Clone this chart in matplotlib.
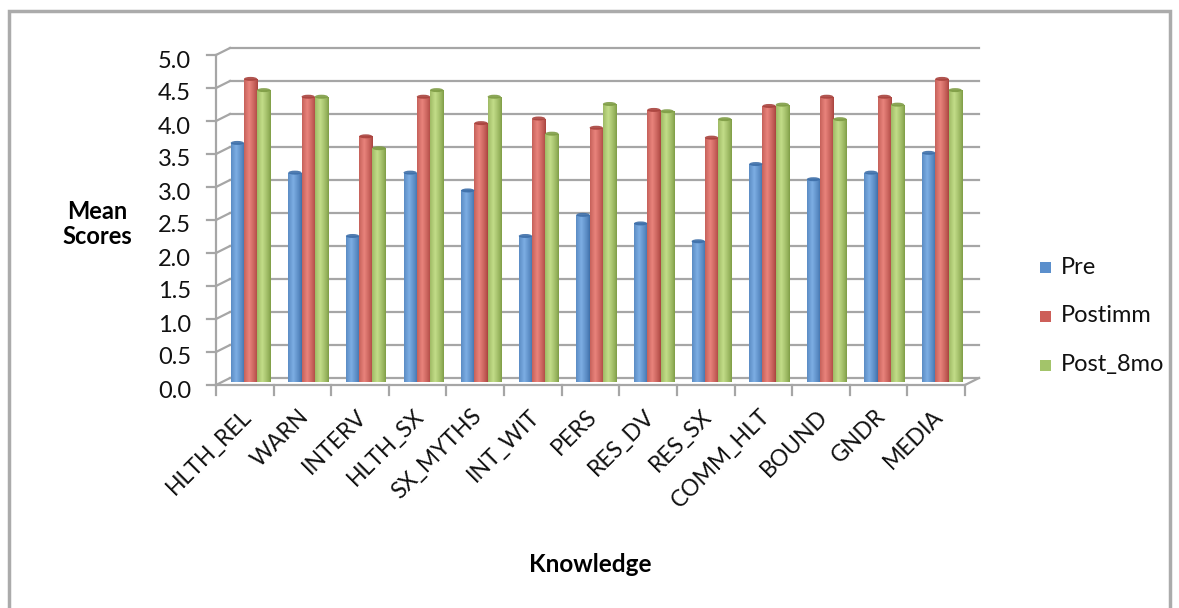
import numpy as np
import matplotlib
matplotlib.use("Agg")
import matplotlib.pyplot as plt
from matplotlib.patches import Ellipse, Rectangle
from matplotlib.colors import LinearSegmentedColormap

# mean knowledge scores per topic, three waves
topics = ["HLTH_REL", "WARN", "INTERV", "HLTH_SX", "SX_MYTHS", "INT_WIT", "PERS",
          "RES_DV", "RES_SX", "COMM_HLT", "BOUND", "GNDR", "MEDIA"]
pre = [3.63, 3.18, 2.22, 3.18, 2.91, 2.22, 2.54, 2.41, 2.14, 3.31, 3.08, 3.18, 3.48]
postimm = [4.60, 4.33, 3.73, 4.33, 3.93, 4.00, 3.86, 4.13, 3.71, 4.19, 4.33, 4.33, 4.60]
post_8mo = [4.43, 4.33, 3.55, 4.43, 4.33, 3.77, 4.22, 4.11, 3.99, 4.21, 3.99, 4.21, 4.43]
series_names = ["Pre", "Postimm", "Post_8mo"]
y_ticks = np.arange(0, 5.01, 0.5)

# (edge, highlight) colours for the cylinder shading
colors = [("#3d6ea8", "#7cade3"), ("#a8423d", "#e8837b"), ("#7e9c45", "#c2dc88")]
legend_colors = ["#5b8fcc", "#cd5f59", "#a3c46a"]

plt.rcParams["font.family"] = ["Lato", "DejaVu Sans"]

W, H = 1179, 608
fig = plt.figure(figsize=(W / 100, H / 100), dpi=100)
x0_px, x1_px, y0_px, y5_px = 216, 965, 385, 55
ax = fig.add_axes([x0_px / W, 1 - y0_px / H, (x1_px - x0_px) / W, (y0_px - y5_px) / H])
n = len(topics)
ax.set_xlim(0, n)
ax.set_ylim(0, 5)
ax.axis("off")

# depth of the fake 3d floor, in data units
px_x = (x1_px - x0_px) / n
px_y = (y0_px - y5_px) / 5
DX, DY = 14 / px_x, 7 / px_y
grid_c = "#a6a6a6"

for v in y_ticks:
    ax.plot([DX, n + DX], [v + DY, v + DY], color=grid_c, lw=1.6, clip_on=False, zorder=1)
    ax.plot([0, DX], [v, v + DY], color=grid_c, lw=1.6, clip_on=False, zorder=1)
    ax.plot([-9 / px_x, 0], [v, v], color=grid_c, lw=1.6, clip_on=False, zorder=1)
    ax.text(-25 / px_x, v - 6 / px_y, f"{v:.1f}", ha="right", va="center",
            fontsize=17, color="#111111")
ax.plot([0, 0], [0, 5], color=grid_c, lw=1.6, clip_on=False, zorder=1)
ax.plot([0, n], [0, 0], color=grid_c, lw=1.6, clip_on=False, zorder=1)
ax.plot([n, n + DX], [0, DY], color=grid_c, lw=1.6, clip_on=False, zorder=1)
for i in range(n + 1):
    ax.plot([i, i], [0, -10 / px_y], color=grid_c, lw=1.6, clip_on=False, zorder=1)

# cylinders
bw = 0.23
base = 2.5 / px_y
shift = 0.1
cap_h = 4 / px_y
prof = np.linspace(0, 1, 64)
shade = np.clip(1 - np.abs(prof - 0.38) / 0.62, 0, 1) ** 0.8
for k, vals in enumerate([pre, postimm, post_8mo]):
    cmap = LinearSegmentedColormap.from_list(f"c{k}", [colors[k][0], colors[k][1]])
    for i, v in enumerate(vals):
        xc = i + 0.5 + shift + (k - 1) * bw
        rect = Rectangle((xc - bw / 2, base), bw, v, facecolor="none", edgecolor="none")
        ax.add_patch(rect)
        im = ax.imshow(shade[None, :], cmap=cmap, vmin=0, vmax=1, aspect="auto",
                       extent=[xc - bw / 2, xc + bw / 2, base, base + v], zorder=2 + k * 0.01)
        im.set_clip_path(rect)
        cap = Ellipse((xc, base + v), bw, cap_h, facecolor=colors[k][0], edgecolor="none",
                      zorder=2.5 + k * 0.01, alpha=0.9)
        ax.add_patch(cap)
ax.set_xlim(0, n)
ax.set_ylim(0, 5)

for i, name in enumerate(topics):
    ax.text(i + 0.5 + 3 / px_x, -28 / px_y, name, rotation=45, rotation_mode="anchor",
            ha="right", va="center", fontsize=16.5, color="#111111")

fig.text(97 / W, 1 - 224 / H, "Mean\nScores", ha="center", va="center",
         fontsize=17, fontweight="bold", linespacing=1.15)
fig.text(590 / W, 1 - 565 / H, "Knowledge", ha="center", va="center",
         fontsize=17.5, fontweight="bold")

for k, name in enumerate(series_names):
    yy = 1 - (267 + 49 * k) / H
    fig.patches.append(Rectangle((1040 / W, yy - 6 / H), 11 / W, 11 / H,
                                 facecolor=legend_colors[k], transform=fig.transFigure))
    fig.text(1061 / W, yy, name, ha="left", va="center", fontsize=17, color="#111111")

# outer frame
fig.patches.append(Rectangle((9 / W, -0.05), 1161 / W, 1.05 - 11 / H, facecolor="none",
                             edgecolor="#ababab", lw=2.5, transform=fig.transFigure))

fig.savefig("out.png", dpi=100)
